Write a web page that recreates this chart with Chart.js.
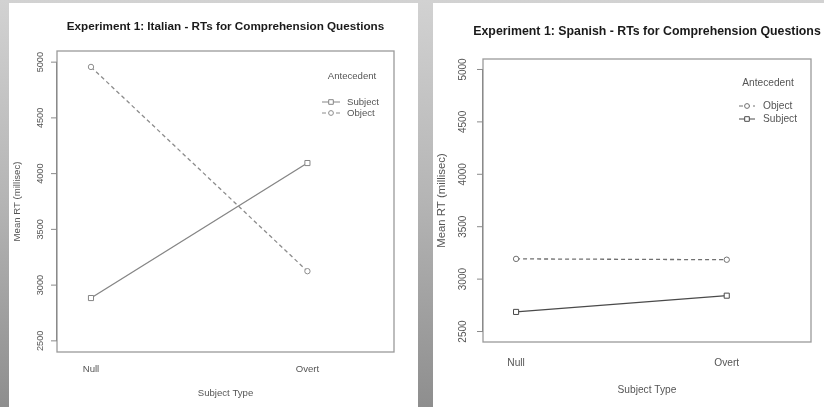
<!DOCTYPE html>
<html>
<head>
<meta charset="utf-8">
<script src="https://cdn.jsdelivr.net/npm/chart.js@4.4.1/dist/chart.umd.min.js"></script>
<style>
  html, body { margin: 0; padding: 0; }
  body {
    width: 824px; height: 407px; position: relative; overflow: hidden;
    background: linear-gradient(to bottom, #d2d2d2 0%, #b4b4b4 50%, #8e8e8e 100%);
  }
  .panel { position: absolute; top: 3px; background: #fff; }
  canvas { display: block; }
</style>
</head>
<body>
<div class="panel" style="left:9px;width:409px;height:404px"><canvas id="italian" width="409" height="404"></canvas></div>
<div class="panel" style="left:433px;width:391px;height:404px"><canvas id="spanish" width="391" height="404"></canvas></div>
<script>
// données
var subjectTypes = ['Null', 'Overt'];
var yTicks = [2500, 3000, 3500, 4000, 4500, 5000];

var italianSubject = [2884, 4095];
var italianObject = [4957, 3125];

var spanishObject = [3193, 3185];
var spanishSubject = [2687, 2842];

var FONT = '"Liberation Sans", Arial, Helvetica, sans-serif';

function pts(values) {
  return values.map(function (v, i) { return { x: i + 1, y: v }; });
}

// dessin façon R : cadre, graduations, titres, légende
var rStyle = {
  id: 'rStyle',
  afterDraw: function (chart) {
    var o = chart.options.plugins.rStyle;
    var ctx = chart.ctx;
    var a = chart.chartArea;
    var xs = chart.scales.x, ys = chart.scales.y;
    ctx.save();

    // cadre
    ctx.strokeStyle = '#9a9a9a';
    ctx.lineWidth = 1.3;
    ctx.strokeRect(a.left, a.top, a.right - a.left, a.bottom - a.top);

    // axe y
    ctx.strokeStyle = '#8a8a8a';
    ctx.lineWidth = 1;
    ctx.beginPath();
    ctx.moveTo(a.left - 0.5, ys.getPixelForValue(yTicks[0]));
    ctx.lineTo(a.left - 0.5, ys.getPixelForValue(yTicks[yTicks.length - 1]));
    yTicks.forEach(function (t) {
      var py = ys.getPixelForValue(t);
      ctx.moveTo(a.left, py);
      ctx.lineTo(a.left - 6, py);
    });
    ctx.stroke();

    ctx.fillStyle = '#555';
    ctx.font = o.tickSize + 'px ' + FONT;
    ctx.textAlign = 'center';
    ctx.textBaseline = 'middle';
    yTicks.forEach(function (t) {
      ctx.save();
      ctx.translate(o.tickX, ys.getPixelForValue(t));
      ctx.rotate(-Math.PI / 2);
      ctx.fillText(String(t), 0, 0);
      ctx.restore();
    });

    // titre de l'axe y
    ctx.save();
    ctx.font = o.yTitleSize + 'px ' + FONT;
    ctx.translate(o.yTitleX, (a.top + a.bottom) / 2);
    ctx.rotate(-Math.PI / 2);
    ctx.fillText('Mean RT (millisec)', 0, 0);
    ctx.restore();

    // étiquettes x
    ctx.font = o.textSize + 'px ' + FONT;
    subjectTypes.forEach(function (c, i) {
      ctx.fillText(c, xs.getPixelForValue(i + 1), o.xLabelY);
    });
    ctx.fillText('Subject Type', (a.left + a.right) / 2, o.xTitleY);

    // titre
    ctx.fillStyle = '#1a1a1a';
    ctx.font = 'bold ' + o.titleSize + 'px ' + FONT;
    ctx.fillText(o.title, (a.left + a.right) / 2, o.titleY);

    // légende
    var L = o.legend;
    ctx.fillStyle = '#555';
    ctx.font = o.textSize + 'px ' + FONT;
    ctx.fillText('Antecedent', L.titleX, L.titleY);
    ctx.textAlign = 'left';
    L.items.forEach(function (idx, k) {
      var ds = chart.data.datasets[idx];
      var y = L.firstY + k * L.step;
      ctx.strokeStyle = ds.borderColor;
      ctx.lineWidth = 1;
      ctx.setLineDash(ds.borderDash || []);
      ctx.beginPath();
      ctx.moveTo(L.x0, y);
      ctx.lineTo(L.x1, y);
      ctx.stroke();
      ctx.setLineDash([]);
      ctx.fillStyle = '#fff';
      var m = (L.x0 + L.x1) / 2;
      ctx.beginPath();
      if (ds.pointStyle === 'rect') ctx.rect(m - 2.3, y - 2.3, 4.6, 4.6);
      else ctx.arc(m, y, 2.4, 0, Math.PI * 2);
      ctx.fill();
      ctx.stroke();
      ctx.fillStyle = '#555';
      ctx.fillText(ds.label, L.textX, y);
    });

    ctx.restore();
  }
};

function makeChart(id, datasets, opts) {
  var ctx = document.getElementById(id).getContext('2d');
  return new Chart(ctx, {
    type: 'line',
    data: { datasets: datasets },
    options: {
      responsive: false,
      animation: false,
      devicePixelRatio: 1,
      layout: { padding: opts.padding },
      scales: {
        x: { type: 'linear', display: false, min: 0.843, max: 2.40 },
        y: { type: 'linear', display: false, min: 2400, max: 5100 },
      },
      plugins: {
        legend: { display: false },
        tooltip: { enabled: false },
        title: { display: false },
        rStyle: opts,
      },
    },
    plugins: [rStyle],
  });
}

function series(label, values, color, dashed, shape) {
  return {
    label: label,
    data: pts(values),
    borderColor: color,
    borderWidth: 1.3,
    borderDash: dashed ? [4, 3] : [],
    pointStyle: shape,
    pointRadius: shape === 'rect' ? 3.6 : 2.7,
    pointBorderWidth: 1,
    pointBackgroundColor: '#fff',
    pointBorderColor: color,
    tension: 0,
    fill: false,
  };
}

// Italien
makeChart('italian', [
  series('Subject', italianSubject, '#858585', false, 'rect'),
  series('Object', italianObject, '#8c8c8c', true, 'circle'),
], {
  padding: { left: 48, top: 48, right: 24, bottom: 55 },
  title: 'Experiment 1: Italian - RTs for Comprehension Questions',
  titleSize: 11.7, titleY: 24,
  tickSize: 9.2, textSize: 9.6, yTitleSize: 9.6, tickX: 31, yTitleX: 8,
  xLabelY: 366, xTitleY: 390,
  legend: { titleX: 343, titleY: 73, firstY: 99, step: 11, x0: 313, x1: 331, textX: 338, items: [0, 1] },
});

// Espagnol
makeChart('spanish', [
  series('Object', spanishObject, '#707070', true, 'circle'),
  series('Subject', spanishSubject, '#4a4a4a', false, 'rect'),
], {
  padding: { left: 50, top: 56, right: 13, bottom: 65 },
  title: 'Experiment 1: Spanish - RTs for Comprehension Questions',
  titleSize: 12.35, titleY: 29,
  tickSize: 10, textSize: 10.2, yTitleSize: 11.4, tickX: 30, yTitleX: 9,
  xLabelY: 360, xTitleY: 387,
  legend: { titleX: 335, titleY: 80, firstY: 103, step: 13, x0: 306, x1: 322, textX: 330, items: [0, 1] },
});
</script>
</body>
</html>
